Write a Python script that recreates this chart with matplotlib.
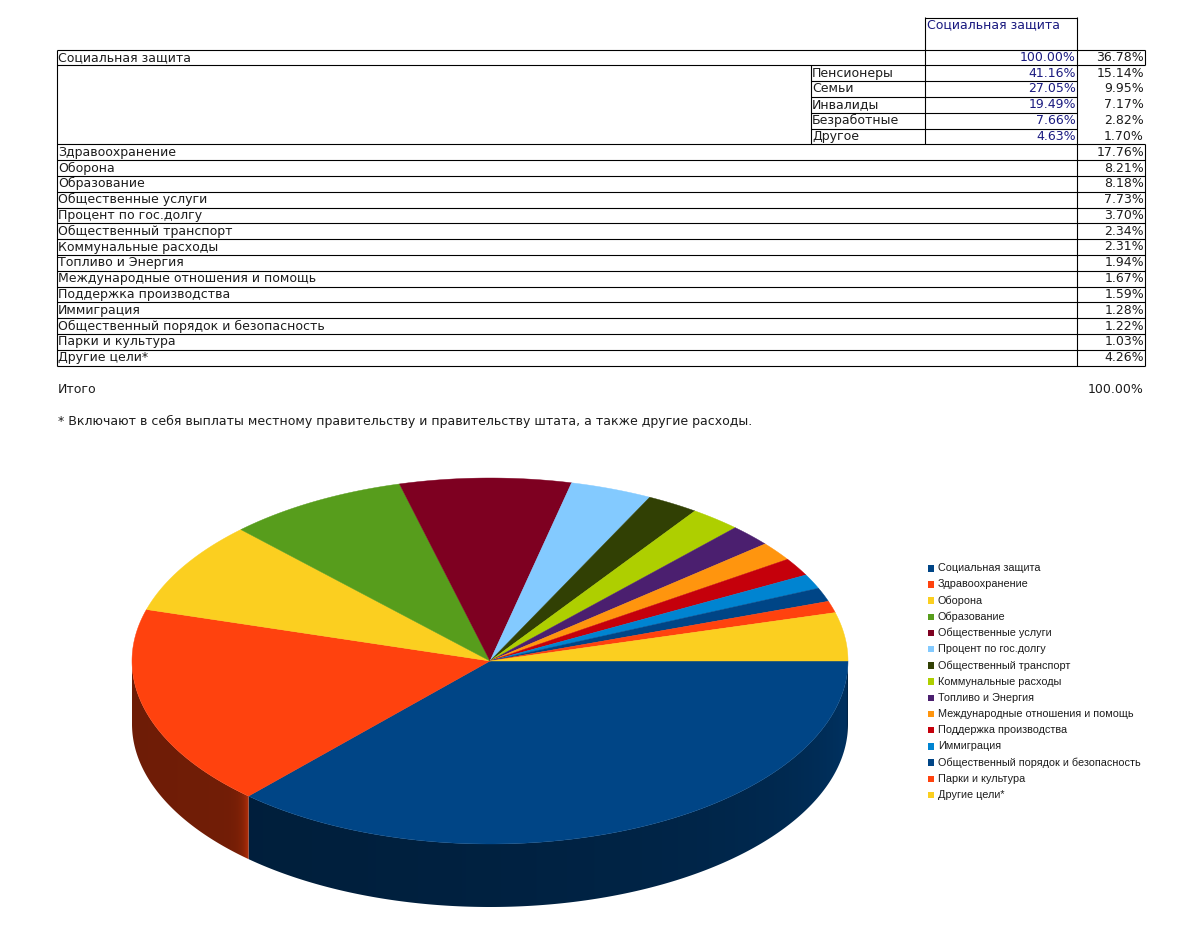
#!/usr/bin/env python3
"""Federal budget table with a tilted pie chart underneath."""
import numpy as np
import matplotlib
matplotlib.use("Agg")
import matplotlib.pyplot as plt
from matplotlib.colors import to_rgb
from matplotlib.patches import Polygon

CATEGORIES = [
    "Социальная защита", "Здравоохранение", "Оборона", "Образование",
    "Общественные услуги", "Процент по гос.долгу", "Общественный транспорт",
    "Коммунальные расходы", "Топливо и Энергия",
    "Международные отношения и помощь", "Поддержка производства",
    "Иммиграция", "Общественный порядок и безопасность",
    "Парки и культура", "Другие цели*",
]
SHARES = [36.78, 17.76, 8.21, 8.18, 7.73, 3.70, 2.34, 2.31, 1.94, 1.67, 1.59,
          1.28, 1.22, 1.03, 4.26]
COLORS = ["#004586", "#ff420e", "#fbcf20", "#579d1c", "#7e0021", "#83caff",
          "#314004", "#aecf00", "#4b1f6f", "#ff950e", "#c5000b", "#0084d1",
          "#004586", "#ff420e", "#fbcf20"]

SUB_LABELS = ["Пенсионеры", "Семьи", "Инвалиды", "Безработные", "Другое"]
SUB_OF_SOCIAL = ["41.16%", "27.05%", "19.49%", "7.66%", "4.63%"]
SUB_OF_TOTAL = ["15.14%", "9.95%", "7.17%", "2.82%", "1.70%"]

NAVY = "#1a1a80"
TEXT = "#1c1c1c"
TABLE_FONT = 9.0

# pixel layout of the table
X0, X1, X2, X3, X4 = 57, 811, 925, 1077, 1145
ROW_TOP = 49.5
ROW_H = 15.8

# pie geometry in pixels
CX, CY, RX, RY, DEPTH = 490, 661, 358, 183, 63

fig = plt.figure(figsize=(11.97, 9.33), dpi=100)
ax = fig.add_axes([0, 0, 1, 1])
ax.set_xlim(0, 1197)
ax.set_ylim(933, 0)
ax.set_autoscale_on(False)
ax.axis("off")


def hline(y, x0=X0, x1=X4):
    ax.plot([x0, x1], [y, y], color="black", lw=0.8, solid_capstyle="butt")


def vline(x, y0, y1):
    ax.plot([x, x], [y0, y1], color="black", lw=0.8, solid_capstyle="butt")


def cell(x, row, s, ha="left", color=TEXT):
    ax.text(x, ROW_TOP + (row + 0.5) * ROW_H, s, ha=ha, va="center",
            fontsize=TABLE_FONT, color=color, family="DejaVu Sans")


n_rows = 6 + len(CATEGORIES) - 1
for i in range(n_rows + 1):
    y = ROW_TOP + i * ROW_H
    if 2 <= i <= 5:
        hline(y, X1, X3)
    else:
        hline(y)

table_bottom = ROW_TOP + n_rows * ROW_H
sub_top = ROW_TOP + ROW_H
sub_bot = ROW_TOP + 6 * ROW_H
vline(X0, ROW_TOP, table_bottom)
vline(X1, sub_top, sub_bot)
vline(X2, 17, sub_bot)
vline(X3, 17, table_bottom)
vline(X4, ROW_TOP, sub_top)
vline(X4, sub_bot, table_bottom)
hline(17.5, X2, X3)

ax.text(X2 + 2, 25, "Социальная защита", ha="left", va="center",
        fontsize=TABLE_FONT, color=NAVY, family="DejaVu Sans")

cell(X0 + 1, 0, CATEGORIES[0])
cell(X3 - 1, 0, "100.00%", ha="right", color=NAVY)
cell(X4 - 1, 0, f"{SHARES[0]:.2f}%", ha="right")
for i, lab in enumerate(SUB_LABELS):
    cell(X1 + 1, i + 1, lab)
    cell(X3 - 1, i + 1, SUB_OF_SOCIAL[i], ha="right", color=NAVY)
    cell(X4 - 1, i + 1, SUB_OF_TOTAL[i], ha="right")
for i, (lab, val) in enumerate(zip(CATEGORIES[1:], SHARES[1:])):
    cell(X0 + 1, i + 6, lab)
    cell(X4 - 1, i + 6, f"{val:.2f}%", ha="right")

ax.text(X0 + 1, 389.5, "Итого", va="center", fontsize=TABLE_FONT,
        color=TEXT, family="DejaVu Sans")
ax.text(X4 - 1, 389.5, "100.00%", ha="right", va="center", fontsize=TABLE_FONT,
        color=TEXT, family="DejaVu Sans")
ax.text(X0 + 1, 421, "* Включают в себя выплаты местному правительству и "
        "правительству штата, а также другие расходы.", va="center",
        fontsize=TABLE_FONT, color=TEXT, family="DejaVu Sans")

# pie: starts at 3 o'clock and runs clockwise on screen
edges = np.cumsum([0] + SHARES) / sum(SHARES) * 2 * np.pi


def wall_shade(t, start):
    # front wall gets darker towards the left, with a dark rim at the far right
    # and a lighter strip where a slice begins
    base = 0.42 + 0.36 * np.exp(-t / 0.9)
    rim = -0.25 * np.exp(-t / 0.06)
    seam = 0.25 * np.exp(-np.abs(t - start) / 0.02) if start > 0 else 0.0
    return base + rim + seam


# side wall: a horizontal gradient for each slice, clipped to the slice outline
for k in range(len(SHARES)):
    a0, a1 = edges[k], min(edges[k + 1], np.pi)
    if a0 >= np.pi:
        break
    ts = np.linspace(a0, a1, 200)
    top = np.c_[CX + RX * np.cos(ts), CY + RY * np.sin(ts)]
    outline = np.r_[top, (top + [0, DEPTH])[::-1]]
    x_left, x_right = top[:, 0].min(), top[:, 0].max()
    xs = np.arange(np.floor(x_left), np.ceil(x_right) + 1)
    t_at_x = np.arccos(np.clip((xs - CX) / RX, -1, 1))
    shade = wall_shade(t_at_x, a0)
    rgb = np.outer(shade, to_rgb(COLORS[k]))[np.newaxis, :, :]
    im = ax.imshow(np.clip(rgb, 0, 1), extent=(xs[0], xs[-1], CY + RY + DEPTH, CY - RY),
                   aspect="auto", interpolation="bilinear", zorder=1)
    im.set_clip_path(Polygon(outline, closed=True, transform=ax.transData))

for k, col in enumerate(COLORS):
    ts = np.linspace(edges[k], edges[k + 1], 200)
    xs = np.r_[CX, CX + RX * np.cos(ts)]
    ys = np.r_[CY, CY + RY * np.sin(ts)]
    ax.fill(xs, ys, facecolor=col, edgecolor=col, lw=0.3, zorder=2)

# legend
for i, (lab, col) in enumerate(zip(CATEGORIES, COLORS)):
    y = 568.3 + i * 16.19
    ax.fill([927.5, 934, 934, 927.5], [y - 3.2, y - 3.2, y + 3.2, y + 3.2],
            facecolor=col, edgecolor="none")
    ax.text(938, y, lab, va="center", fontsize=7.85, color=TEXT,
            family="Liberation Sans")

fig.savefig("out.png", dpi=100)
